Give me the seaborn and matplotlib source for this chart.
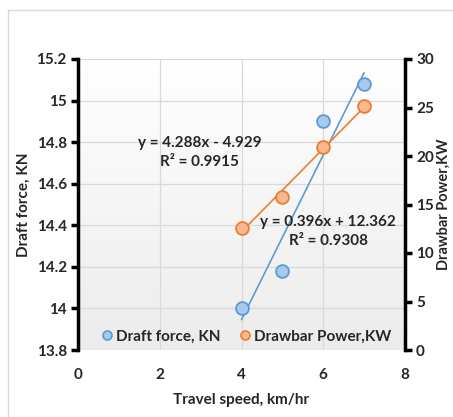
import numpy as np
import pandas as pd
import matplotlib
matplotlib.use('Agg')
import matplotlib.pyplot as plt
import seaborn as sns
from matplotlib.lines import Line2D
from matplotlib.patches import Rectangle

# data
speed = [4, 5, 6, 7]
draft_force = [14.0, 14.18, 14.9, 15.08]
drawbar_power = [12.6, 15.75, 20.95, 25.15]
x_ticks = [0, 2, 4, 6, 8]
left_ticks = [13.8, 14, 14.2, 14.4, 14.6, 14.8, 15, 15.2]
left_labels = ['13.8', '14', '14.2', '14.4', '14.6', '14.8', '15', '15.2']
right_ticks = [0, 5, 10, 15, 20, 25, 30]
eq_power = 'y = 4.288x - 4.929\nR² = 0.9915'
eq_draft = 'y = 0.396x + 12.362\nR² = 0.9308'

df = pd.DataFrame({'speed': speed, 'draft': draft_force, 'power': drawbar_power})

sns.set_style('white')
plt.rcParams['font.family'] = ['Lato', 'DejaVu Sans']
plt.rcParams['font.weight'] = 'bold'

blue, blue_fill = '#5b9bd5', '#a9c9ea'
orange, orange_fill = '#ed7d31', '#f6b98f'

fig = plt.figure(figsize=(4.53, 4.17), dpi=100)
fig.patches.append(Rectangle((8 / 453, -0.1), 1.2, 1.1 - 10 / 417, transform=fig.transFigure,
                             fill=False, edgecolor='#d9d9d9', linewidth=1.0))
ax = fig.add_axes([78 / 453, 1 - 350 / 417, (405 - 78) / 453, (350 - 59) / 417])

# light vertical gradient in the plot area
grad = np.linspace(0, 1, 256).reshape(-1, 1)
ax.imshow(grad, extent=[0, 1, 0, 1], transform=ax.transAxes, aspect='auto',
          cmap=matplotlib.colors.LinearSegmentedColormap.from_list('g', ['#ececec', '#ffffff']),
          origin='lower', zorder=0)

ax2 = ax.twinx()

sns.regplot(data=df, x='speed', y='draft', ax=ax, scatter=False, ci=None,
            line_kws={'color': blue, 'lw': 1.2, 'zorder': 3})
sns.scatterplot(data=df, x='speed', y='draft', ax=ax, s=85, color=blue_fill,
                edgecolor=blue, linewidth=1.3, zorder=4)
sns.regplot(data=df, x='speed', y='power', ax=ax2, scatter=False, ci=None,
            line_kws={'color': orange, 'lw': 1.2, 'zorder': 3})
sns.scatterplot(data=df, x='speed', y='power', ax=ax2, s=85, color=orange_fill,
                edgecolor=orange, linewidth=1.3, zorder=4)

ax.set_xlim(0, 8)
ax.set_ylim(13.8, 15.2)
ax2.set_ylim(0, 30)
ax.set_xticks(x_ticks)
ax.set_yticks(left_ticks)
ax.set_yticklabels(left_labels)
ax2.set_yticks(right_ticks)

ax.grid(True, color='#d9d9d9', lw=0.9)
ax.set_axisbelow(True)
for a in (ax, ax2):
    for s in ('top', 'bottom'):
        a.spines[s].set_visible(False)
ax.spines['right'].set_visible(False)
ax2.spines['left'].set_visible(False)
ax.spines['left'].set_linewidth(2.5)
ax.spines['left'].set_color('black')
ax2.spines['right'].set_linewidth(2.5)
ax2.spines['right'].set_color('black')

ax.tick_params(axis='y', length=5, width=2.5, color='black', labelsize=11, pad=3)
ax.tick_params(axis='x', length=0, labelsize=11, pad=13)
ax2.tick_params(axis='y', length=5, width=2.5, color='black', labelsize=11, pad=3)

ax.set_xlabel('Travel speed, km/hr', fontsize=11, fontweight='bold', labelpad=8)
ax.set_ylabel('Draft force, KN', fontsize=11, fontweight='bold', labelpad=4)
ax2.set_ylabel('Drawbar Power,KW', fontsize=10.5, fontweight='bold', labelpad=2)

ax.text(2.98, 14.75, eq_power, ha='center', va='center', fontsize=11,
        fontweight='bold', linespacing=1.5, zorder=5)
ax.text(6.12, 14.37, eq_draft, ha='center', va='center', fontsize=11,
        fontweight='bold', linespacing=1.5, zorder=5)

handles = [
    Line2D([], [], ls='', marker='o', ms=6.5, mfc=blue_fill, mec=blue, mew=1.2),
    Line2D([], [], ls='', marker='o', ms=6.5, mfc=orange_fill, mec=orange, mew=1.2),
]
ax2.legend(handles, ['Draft force, KN', 'Drawbar Power,KW'], loc='lower center',
           bbox_to_anchor=(0.51, -0.025), ncol=2, frameon=False,
           handletextpad=0.0, columnspacing=1.0, handlelength=1.2,
           prop={'weight': 'bold', 'size': 11})

fig.savefig('out.png', dpi=100)
